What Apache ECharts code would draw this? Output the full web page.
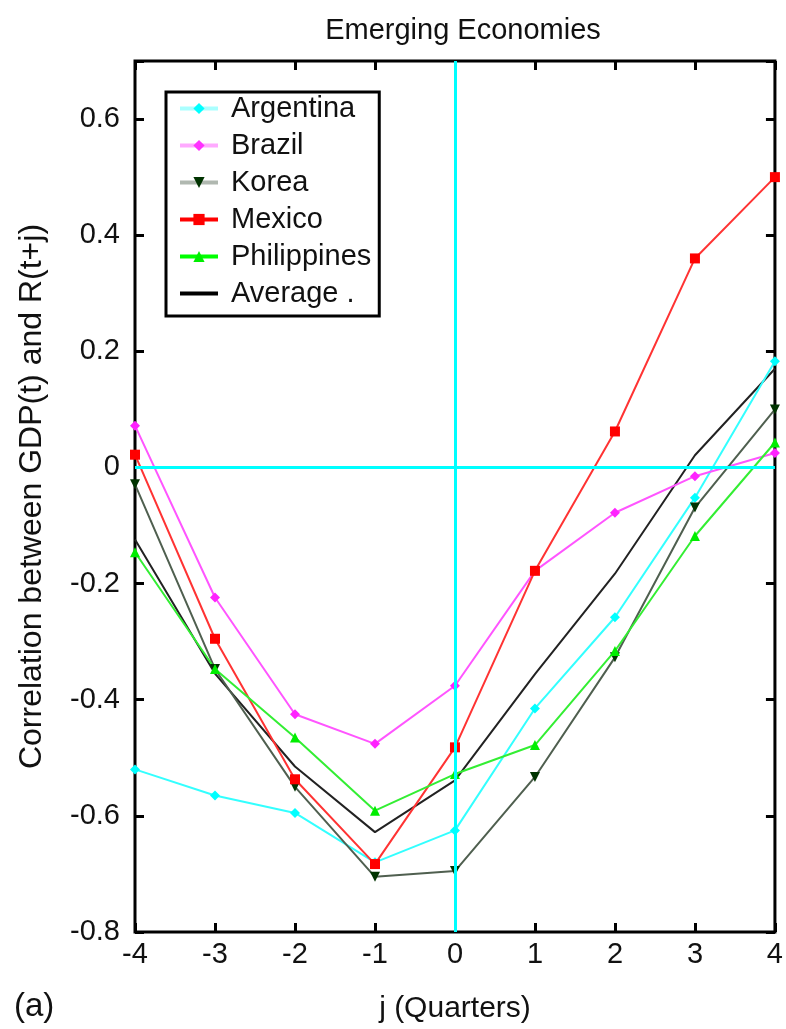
<!DOCTYPE html>
<html><head><meta charset="utf-8">
<script src="https://cdn.jsdelivr.net/npm/echarts@6/dist/echarts.min.js"></script>
<style>html,body{margin:0;padding:0;background:#fff}#c{width:786px;height:1029px}</style>
</head><body><div id="c"></div>
<script>
var quarters = [-4, -3, -2, -1, 0, 1, 2, 3, 4];
var argentina   = [-0.52, -0.565, -0.595, -0.68, -0.625, -0.415, -0.258, -0.052, 0.183];
var brazil      = [0.072, -0.224, -0.425, -0.476, -0.376, -0.178, -0.078, -0.015, 0.025];
var korea       = [-0.029, -0.347, -0.55, -0.705, -0.695, -0.533, -0.327, -0.069, 0.10];
var mexico      = [0.022, -0.295, -0.537, -0.683, -0.482, -0.178, 0.062, 0.36, 0.50];
var philippines = [-0.146, -0.347, -0.465, -0.591, -0.528, -0.478, -0.316, -0.118, 0.043];
var average     = [-0.124, -0.355, -0.515, -0.628, -0.539, -0.356, -0.183, 0.021, 0.17];
var yTicks = [-0.8, -0.6, -0.4, -0.2, 0, 0.2, 0.4, 0.6];

var FONT = '"Liberation Sans", Arial, sans-serif';
function pairs(arr){ return quarters.map(function(q,i){ return [q, arr[i]]; }); }

var chart = echarts.init(document.getElementById('c'), null, {renderer:'canvas'});
function mk(name, data, lineColor, symColor, symbol, symRot){
  return {
    name: name, type: 'line', data: pairs(data),
    symbol: symbol, symbolSize: 10, symbolRotate: symRot || 0,
    lineStyle: {color: lineColor, width: 2},
    itemStyle: {color: symColor},
    z: 3, animation: false
  };
}
var series = [
  mk('Argentina', argentina, '#33ffff', '#00ffff', 'diamond'),
  mk('Brazil', brazil, '#ff55ff', '#ff22ff', 'diamond'),
  mk('Korea', korea, '#4f5f4f', '#003300', 'triangle', 180),
  mk('Mexico', mexico, '#ff3333', '#ff0000', 'rect'),
  mk('Philippines', philippines, '#33ee33', '#00ee00', 'triangle'),
  {name:'Average .', type:'line', data: pairs(average), symbol:'none', showSymbol:false,
   lineStyle:{color:'#222', width:2}, itemStyle:{color:'#000'}, z:2, animation:false,
   markLine:{silent:true, symbol:'none', animation:false, label:{show:false},
     lineStyle:{color:'#00ffff', width:3, type:'solid'},
     data:[{xAxis:0},{yAxis:0}]}}
];

var tickStyle = {show:true, inside:true, length:9, lineStyle:{color:'#000', width:3}};

chart.setOption({
  animation: false,
  backgroundColor: '#fff',
  title: {text: 'Emerging Economies', left: 458, textAlign: 'center', top: 11,
    textStyle: {fontFamily: FONT, fontSize: 29, fontWeight: 'normal', color: '#111'}},
  grid: {left: 135, right: 5, top: 61, bottom: 97, show: true, borderColor: '#000', borderWidth: 3, backgroundColor: 'transparent'},
  legend: {
    orient: 'vertical', left: 166, top: 92, padding: [2, 8, 8, 12],
    borderColor: '#000', borderWidth: 3, backgroundColor: '#fff',
    itemWidth: 38, itemHeight: 14, itemGap: 8,
    textStyle: {fontFamily: FONT, fontSize: 29, color: '#111', lineHeight: 27, padding: [0, 0, 0, 8]},
    data: [
      {name:'Argentina', itemStyle:{color:'#00ffff'}, lineStyle:{color:'#aaffff', width:4}},
      {name:'Brazil', itemStyle:{color:'#ff33ff'}, lineStyle:{color:'#ffaaff', width:4}},
      {name:'Korea', itemStyle:{color:'#003300'}, lineStyle:{color:'#b0b8b0', width:4}},
      {name:'Mexico', itemStyle:{color:'#ff0000'}, lineStyle:{color:'#ff0000', width:4}},
      {name:'Philippines', itemStyle:{color:'#00ee00'}, lineStyle:{color:'#00ff00', width:4}},
      {name:'Average .', itemStyle:{color:'rgba(0,0,0,0)', borderWidth:0}, lineStyle:{color:'#000', width:4}}
    ]
  },
  xAxis: [
    {type:'value', min:-4, max:4, interval:1, position:'bottom',
     axisLine:{show:false, onZero:false}, splitLine:{show:false},
     axisTick: tickStyle,
     axisLabel:{fontFamily:FONT, fontSize:29, color:'#111', margin:8},
     name:'j (Quarters)', nameLocation:'middle', nameGap:62,
     nameTextStyle:{fontFamily:FONT, fontSize:30, color:'#111'}},
    {type:'value', min:-4, max:4, interval:1, position:'top',
     axisLine:{show:false, onZero:false}, splitLine:{show:false}, axisLabel:{show:false},
     axisTick: tickStyle}
  ],
  yAxis: [
    {type:'value', min:-0.8, max:0.7, interval:0.2, position:'left',
     axisLine:{show:false, onZero:false}, splitLine:{show:false},
     axisTick: tickStyle,
     axisLabel:{fontFamily:FONT, fontSize:29, color:'#111', margin:15,
       formatter:function(v){ var r=Math.round(v*10)/10; if (yTicks.indexOf(r)<0) return ''; return r===0?'0':String(r); }},
     name:'Correlation between GDP(t) and R(t+j)', nameLocation:'middle', nameGap:87,
     nameTextStyle:{fontFamily:FONT, fontSize:32, color:'#111'}},
    {type:'value', min:-0.8, max:0.7, interval:0.2, position:'right',
     axisLine:{show:false, onZero:false}, splitLine:{show:false}, axisLabel:{show:false},
     axisTick: tickStyle}
  ],
  graphic: [{type:'text', left: 14, top: 990, style:{text:'(a)', fontFamily:FONT, fontSize:33, fill:'#111'}}],
  series: series
});
</script></body></html>
